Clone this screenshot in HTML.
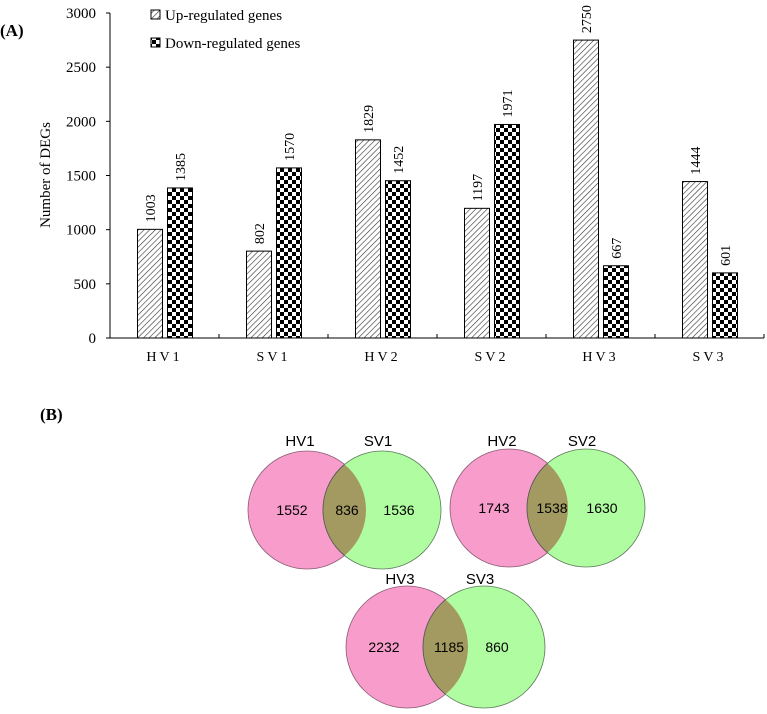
<!DOCTYPE html>
<html><head><meta charset="utf-8"><style>
body{margin:0;background:#fff;width:767px;height:714px;overflow:hidden}
svg{display:block}
</style></head><body>
<svg id="c" width="767" height="714" xmlns="http://www.w3.org/2000/svg" font-family="Liberation Serif, serif">
<defs>
<pattern id="hatch" width="4" height="4" patternUnits="userSpaceOnUse" patternTransform="rotate(45)">
<rect width="4" height="4" fill="#fff"/><line x1="0" y1="0" x2="0" y2="4" stroke="#333" stroke-width="1.2"/>
</pattern>
<pattern id="check" width="8" height="8" patternUnits="userSpaceOnUse">
<rect width="8" height="8" fill="#fff"/><rect width="4" height="4" fill="#000"/><rect x="4" y="4" width="4" height="4" fill="#000"/>
</pattern>
</defs>
<text x="0" y="36" font-size="17" font-weight="bold">(A)</text>
<text x="40" y="420" font-size="17" font-weight="bold">(B)</text>
<g id="chart"></g>
<g id="venn"></g>
</svg>
<script>
const categories=["HV1","SV1","HV2","SV2","HV3","SV3"];
const upValues=[1003,802,1829,1197,2750,1444];
const downValues=[1385,1570,1452,1971,667,601];
const yTicks=[0,500,1000,1500,2000,2500,3000];
const NS="http://www.w3.org/2000/svg";
const g=document.getElementById('chart');
function mk(tag,attrs,parent,text){const e=document.createElementNS(NS,tag);for(const k in attrs)e.setAttribute(k,attrs[k]);if(text!==undefined)e.textContent=text;parent.appendChild(e);return e;}
const x0=110,gw=109,y0=338,yTop=13,yMax=3000;
const ys=v=>y0-(v/yMax)*(y0-yTop);
let e;
e=mk('line',{x1:x0,y1:yTop,x2:x0,y2:y0,stroke:'#000'},g);


e=mk('line',{x1:x0,y1:y0,x2:x0+gw*categories.length,y2:y0,stroke:'#000'},g);


yTicks.forEach(t=>{
 mk('line',{x1:x0-4,y1:ys(t),x2:x0,y2:ys(t),stroke:'#000'},g);
 e=mk('text',{x:x0-14,y:ys(t)+5,'font-size':15,'text-anchor':'end'},g,String(t));
 
 
});
e=mk('text',{x:0,y:0,'font-size':15,'text-anchor':'middle',transform:'translate(50,175) rotate(-90)'},g,'Number of DEGs');


categories.forEach((c,i)=>{
 const cx=x0+gw*i+gw/2;
 mk('line',{x1:x0+gw*(i+1),y1:y0,x2:x0+gw*(i+1),y2:y0-4,stroke:'#000'},g);
 e=mk('text',{x:cx,y:y0+23,'font-size':14,'text-anchor':'middle','letter-spacing':'3'},g,c);
 
 
 [[upValues[i],'url(#hatch)',cx-27,'bar-up'],[downValues[i],'url(#check)',cx+3,'bar-down']].forEach(([v,f,bx,n])=>{
  e=mk('rect',{x:bx,y:ys(v),width:25,height:y0-ys(v),fill:f,stroke:'#000','stroke-width':1},g);
  
  
  const lx=bx+12.5+5,ly=ys(v)-7;
  e=mk('text',{x:0,y:0,'font-size':14,transform:`translate(${lx},${ly}) rotate(-90)`},g,String(v));
  
  
 });
});
[['url(#hatch)','Up-regulated genes',20],['url(#check)','Down-regulated genes',48]].forEach(([f,t,y])=>{
 e=mk('rect',{x:151,y:y-10,width:9,height:9,fill:f,stroke:'#000'},g);
 
 
 e=mk('text',{x:165,y:y,'font-size':15},g,t);
 
 
});
const vennSets=[
 {a:"HV1",b:"SV1",ax:307,bx:382,cy:510,r:59,na:1552,nab:836,nb:1536,ly:446,nx:[292,347,399]},
 {a:"HV2",b:"SV2",ax:509,bx:586,cy:508,r:59,na:1743,nab:1538,nb:1630,ly:446,nx:[494,552,602]},
 {a:"HV3",b:"SV3",ax:407,bx:484,cy:647,r:61,na:2232,nab:1185,nb:860,ly:584,nx:[384,449,497]}];
const vg=document.getElementById('venn');
vennSets.forEach(s=>{
 e=mk('circle',{cx:s.ax,cy:s.cy,r:s.r,fill:'#f79ccb',stroke:'#8a5c74','stroke-width':0.8},vg);
 
 
 e=mk('circle',{cx:s.bx,cy:s.cy,r:s.r,fill:'#b0fca0',stroke:'#5a7a5a','stroke-width':0.8},vg);
 
 
 const cp='cp'+s.a;
 const clip=mk('clipPath',{id:cp},vg);mk('circle',{cx:s.ax,cy:s.cy,r:s.r},clip);
 e=mk('circle',{cx:s.bx,cy:s.cy,r:s.r,fill:'#a39a62',stroke:'#555','stroke-width':0.8,'clip-path':`url(#${cp})`},vg);
 
 
 [[s.a,s.ax-7],[s.b,s.bx-4]].forEach(([t,x])=>{
  e=mk('text',{x:x,y:s.ly,'font-size':15,'text-anchor':'middle','font-family':'Liberation Sans, sans-serif'},vg,t);
  
  
 });
 [s.na,s.nab,s.nb].forEach((n,i)=>{
  e=mk('text',{x:s.nx[i],y:s.cy+5,'font-size':14,'text-anchor':'middle','font-family':'Liberation Sans, sans-serif'},vg,String(n));
  
  
 });
});
</script>
</body></html>
